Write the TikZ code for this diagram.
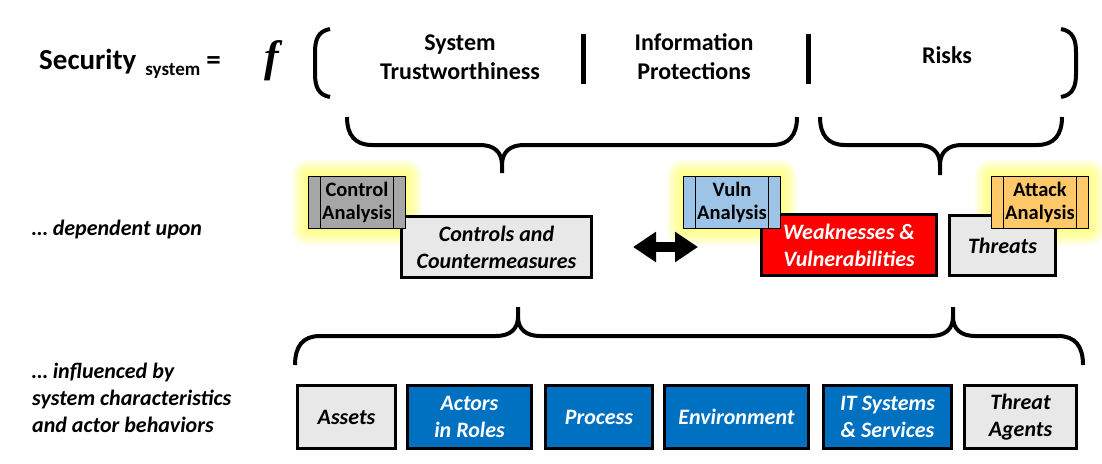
\documentclass[tikz,border=0pt]{standalone}
\usepackage{fontspec}
\setmainfont{Carlito}
\newfontfamily\serifit{Liberation Serif}
\usetikzlibrary{arrows.meta}
\definecolor{boxgrey}{RGB}{232,232,232}
\definecolor{angrey}{RGB}{166,166,166}
\definecolor{anblue}{RGB}{157,195,230}
\definecolor{anorange}{RGB}{255,200,105}
\definecolor{actblue}{RGB}{0,112,192}
\definecolor{glowyellow}{RGB}{255,255,80}
\pgfdeclarelayer{glow}
\pgfsetlayers{glow,main}
\tikzset{
	box/.style={draw, line width=3pt, inner sep=0pt, align=center, font=\fontsize{22}{27}\selectfont\bfseries\itshape},
	greybox/.style={box, fill=boxgrey},
	bluebox/.style={box, fill=actblue, text=white},
	anbox/.style={draw, line width=1pt, inner sep=0pt, minimum width=97pt, minimum height=52pt, align=center, font=\fontsize{20.5}{23}\selectfont\bfseries,
		path picture={\draw[line width=1pt] ([xshift=12pt]path picture bounding box.north west) -- ([xshift=12pt]path picture bounding box.south west)
			([xshift=-12pt]path picture bounding box.north east) -- ([xshift=-12pt]path picture bounding box.south east);}},
	toptext/.style={inner sep=0pt, align=center, font=\fontsize{24}{29}\selectfont\bfseries},
	lefttext/.style={inner sep=0pt, anchor=west, align=left, font=\fontsize{22}{27}\selectfont\bfseries\itshape},
	brace/.style={line width=4pt, line join=round}
}
\begin{document}
\begin{tikzpicture}[x=1pt, y=-1pt, >={Triangle[length=23pt,width=29pt]}]
	\useasboundingbox (0,0) rectangle (1102,463);
	% formula line
	\node[anchor=base west, inner sep=0pt, font=\fontsize{29}{29}\selectfont\bfseries] (sec) at (39,69) {Security\hspace{9pt}\raisebox{-6pt}{\fontsize{19}{19}\selectfont system}\hspace{6pt}=};
	\node[anchor=base, inner sep=0pt, font=\fontsize{44}{44}\selectfont\serifit\bfseries\itshape] (fn) at (272,71) {f};
	\draw[brace] (330,29) .. controls (318,31) and (315,40) .. (315,52) -- (315,74) .. controls (315,86) and (318,95) .. (330,97);
	\draw[brace] (1061,29) .. controls (1073,31) and (1076,40) .. (1076,52) -- (1076,74) .. controls (1076,86) and (1073,95) .. (1061,97);
	\draw[line width=5pt] (583.5,34) -- (583.5,84);
	\draw[line width=5pt] (808.5,34) -- (808.5,84);
	\node[toptext] (trust) at (460,57) {System\\Trustworthiness};
	\node[toptext] (info) at (694,57) {Information\\Protections};
	\node[toptext] (risks) at (947,55) {Risks};
	% upper braces
	\draw[brace] (347,117) .. controls (347,135) and (355,145) .. (372,145) -- (480,145) .. controls (494,145) and (502,152) .. (502,165) -- (502,173)
		(502,165) .. controls (502,152) and (510,145) .. (524,145) -- (772,145) .. controls (789,145) and (797,135) .. (797,117);
	\draw[brace] (820,117) .. controls (820,135) and (828,145) .. (845,145) -- (918,145) .. controls (932,145) and (940,152) .. (940,165) -- (940,175)
		(940,165) .. controls (940,152) and (948,145) .. (962,145) -- (1037,145) .. controls (1054,145) and (1062,135) .. (1062,117);
	% lower brace
	\draw[brace] (295,365) .. controls (295,346) and (303,336) .. (320,336) -- (496,336) .. controls (510,336) and (518,329) .. (518,317) -- (518,307)
		(518,317) .. controls (518,329) and (526,336) .. (540,336) -- (931,336) .. controls (945,336) and (953,329) .. (953,317) -- (953,307)
		(953,317) .. controls (953,329) and (961,336) .. (975,336) -- (1058,336) .. controls (1075,336) and (1083,346) .. (1083,365);
	% left labels
	\node[lefttext] (dep) at (32,230) {… dependent upon};
	\node[lefttext] (infl) at (32,398) {… influenced by\\system characteristics\\and actor behaviors};
	% middle row
	\node[greybox, minimum width=190pt, minimum height=61pt] (cc) at (496.5,247) {Controls and\\Countermeasures};
	\node[box, fill=red, text=white, minimum width=175pt, minimum height=61pt] (wv) at (849,245) {Weaknesses \&\\Vulnerabilities};
	\node[greybox, minimum width=106pt, minimum height=60pt] (thr) at (1002.5,245.5) {Threats};
	\node[anbox, fill=angrey] (ca) at (357,202.5) {Control\\Analysis};
	\node[anbox, fill=anblue] (va) at (732,202.5) {Vuln\\Analysis};
	\node[anbox, fill=anorange] (aa) at (1040,202.5) {Attack\\Analysis};
	\draw[<->, line width=10pt, shorten <=40pt, shorten >=62pt] (cc.east) -- (cc.east -| wv.west);
	\begin{pgfonlayer}{glow}
		\foreach \g in {2,4,...,16}
			\foreach \n in {ca,va,aa}
				\fill[glowyellow, opacity=0.12, rounded corners=\g pt] ([shift={(-\g pt,-\g pt)}]\n.south west) rectangle ([shift={(\g pt,\g pt)}]\n.north east);
	\end{pgfonlayer}
	% bottom row
	\node[greybox, minimum width=98pt, minimum height=63pt] (assets) at (346.5,417) {Assets};
	\node[bluebox, minimum width=124pt, minimum height=63pt] (actors) at (469.5,417) {Actors\\in Roles};
	\node[bluebox, minimum width=107pt, minimum height=63pt] (proc) at (599,417) {Process};
	\node[bluebox, minimum width=144pt, minimum height=63pt] (env) at (736.5,417) {Environment};
	\node[bluebox, minimum width=128pt, minimum height=63pt] (its) at (887.5,417) {IT Systems\\\& Services};
	\node[greybox, minimum width=112pt, minimum height=63pt] (agents) at (1020.5,417) {Threat\\Agents};
\end{tikzpicture}
\end{document}
